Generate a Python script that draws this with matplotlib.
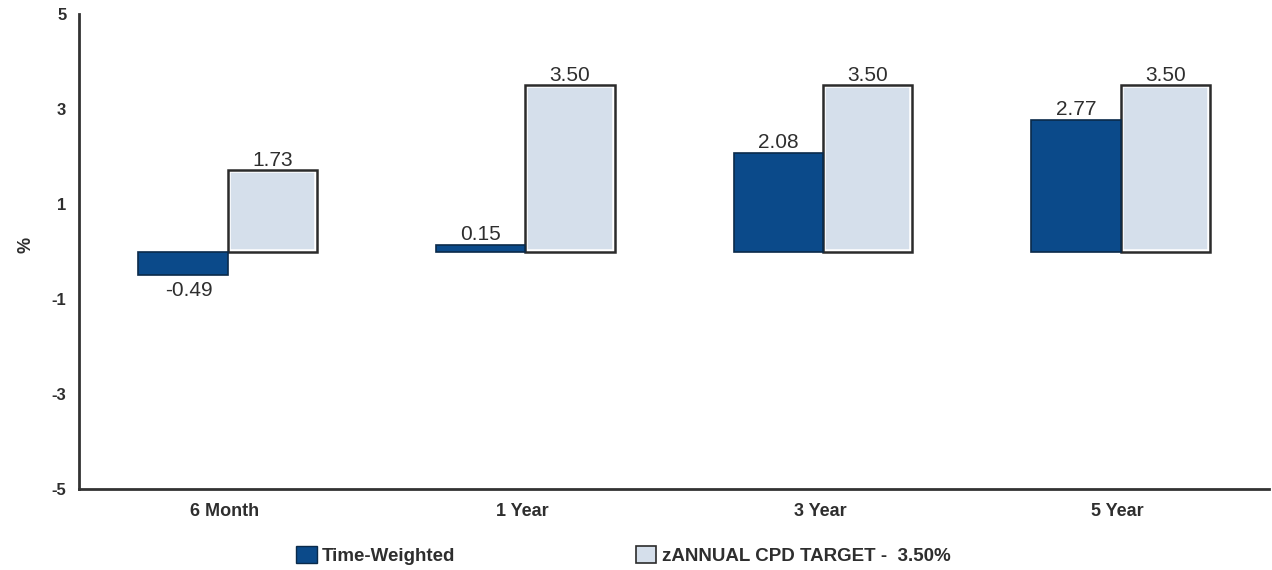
import numpy as np
import matplotlib.pyplot as plt
from matplotlib.patches import Patch

plt.rcParams['font.family'] = ['Liberation Sans', 'DejaVu Sans']

periods = ['6 Month', '1 Year', '3 Year', '5 Year']
time_weighted = [-0.49, 0.15, 2.08, 2.77]
cpd_target = [1.73, 3.50, 3.50, 3.50]
yticks = [5, 3, 1, -1, -3, -5]

dark_blue = '#0b4a8a'
light_blue = '#d5dfeb'
edge = '#2b2b2b'
txt = '#2e2e2e'

fig = plt.figure(figsize=(12.72, 5.70), dpi=100)
ax = fig.add_axes([0.062, 0.142, 0.936, 0.833])

x = np.arange(len(periods))
w = 0.30

# target bars: white inner border under a dark outline
ax.bar(x + w / 2, cpd_target, w, color=light_blue, edgecolor='white', linewidth=4, zorder=2)
ax.bar(x + w / 2, cpd_target, w, facecolor='none', edgecolor=edge, linewidth=1.8, zorder=3)
ax.bar(x - w / 2, time_weighted, w, color=dark_blue, edgecolor='#0a2a4a', linewidth=1.2, zorder=4)

for xi, v in zip(x, time_weighted):
    if v >= 0:
        ax.text(xi - w / 2, v + 0.02, f'{v:.2f}', ha='center', va='bottom', fontsize=15, color=txt)
    else:
        ax.text(xi - w / 2 + 0.02, v - 0.12, f'{v:.2f}', ha='center', va='top', fontsize=15, color=txt)
for xi, v in zip(x, cpd_target):
    ax.text(xi + w / 2, v + 0.0, f'{v:.2f}', ha='center', va='bottom', fontsize=15, color=txt)

ax.set_xlim(-0.5, len(periods) - 0.5)
ax.set_ylim(-5, 5)
ax.set_yticks(yticks)
ax.set_yticklabels([str(t) for t in yticks], fontweight='bold', fontsize=12, color=txt)
ax.set_xticks(x - 0.01)
ax.set_xticklabels(periods, fontweight='bold', fontsize=13, color=txt)
ax.tick_params(length=0, pad=9)
ax.tick_params(axis='x', pad=10)

for s in ['top', 'right']:
    ax.spines[s].set_visible(False)
for s in ['left', 'bottom']:
    ax.spines[s].set_color('#333333')
    ax.spines[s].set_linewidth(2)

fig.text(0.014, 0.57, '%', rotation=90, fontsize=13, fontweight='bold', color=txt, va='center')

handles = [Patch(facecolor=dark_blue, edgecolor='#0a2a4a', linewidth=1),
           Patch(facecolor=light_blue, edgecolor=edge, linewidth=1.2)]
fig.legend(handles, ['Time-Weighted', 'zANNUAL CPD TARGET -  3.50%'],
           loc='center', bbox_to_anchor=(0.49, 0.026), ncol=2, frameon=False,
           handlelength=1.1, handleheight=1.0, handletextpad=0.3, columnspacing=9.6,
           labelcolor=txt, prop={'weight': 'bold', 'size': 13.5})

fig.savefig('out.png', dpi=100)
